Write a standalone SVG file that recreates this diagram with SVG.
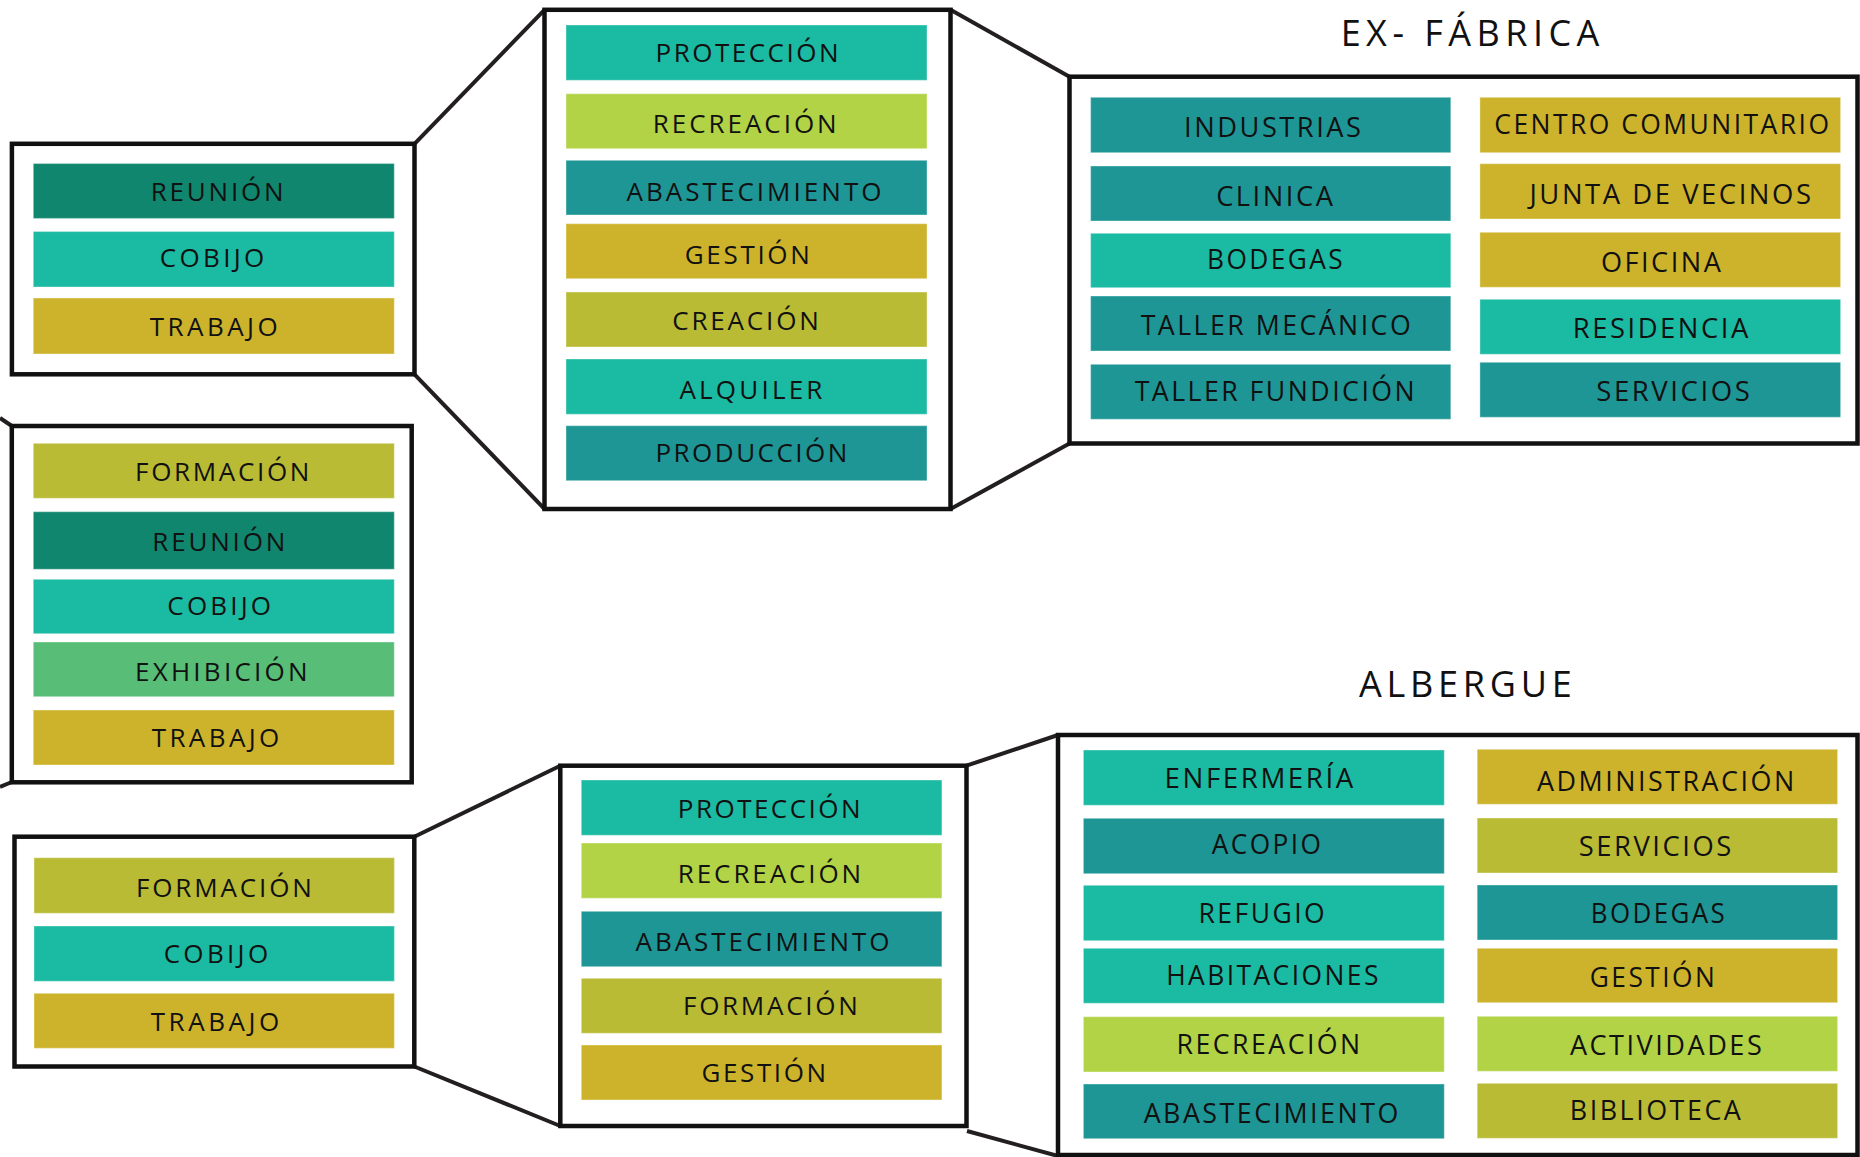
<svg xmlns="http://www.w3.org/2000/svg" width="1860" height="1157" viewBox="0 0 1860 1157">
<style>
  .frame { fill: #fff; stroke: #111; stroke-width: 4.5; }
  .link { fill: none; stroke: #231f20; stroke-width: 4; }
  .bar { stroke: #ffffff; stroke-opacity: 0.3; stroke-width: 1.2; }
  .dg { fill: #10866e; }
  .tq { fill: #1bbaa2; }
  .mu { fill: #cdb32b; }
  .ol { fill: #b9bb35; }
  .li { fill: #b2d346; }
  .dt { fill: #1e9696; }
  .gr { fill: #58bd76; }
  .lb { font-family: "Open Sans", "Liberation Sans", sans-serif; font-size: 26px; fill: #111; text-anchor: middle; }
  .cd { font-family: "Open Sans", "Liberation Sans", sans-serif; font-size: 27px; letter-spacing: 2.5px; fill: #111; text-anchor: middle; }
  .tt { font-family: "Open Sans", "Liberation Sans", sans-serif; font-size: 36px; fill: #111; text-anchor: middle; }
</style>

<!-- connectors between the zoom frames -->
<g id="connectors">
  <line class="link" x1="414.5" y1="143.8" x2="544.5" y2="9.8"/>
  <line class="link" x1="414.5" y1="374.3" x2="544.5" y2="509"/>
  <line class="link" x1="950.5" y1="9.8" x2="1069.5" y2="76.7"/>
  <line class="link" x1="950.5" y1="509" x2="1069.5" y2="443.5"/>
  <line class="link" x1="0" y1="418" x2="11.8" y2="426"/>
  <line class="link" x1="0" y1="787" x2="11.8" y2="782"/>
  <line class="link" x1="414.3" y1="836.7" x2="560.3" y2="765.7"/>
  <line class="link" x1="414.3" y1="1066.5" x2="560.3" y2="1126"/>
  <line class="link" x1="966.5" y1="765.7" x2="1058" y2="735"/>
  <line class="link" x1="967" y1="1131" x2="1058" y2="1156"/>
</g>

<!-- left column, first group -->
<g id="grupo-1">
  <rect class="frame" x="11.9" y="143.8" width="402.6" height="230.5"/>
  <rect class="bar dg" x="33.3" y="163.5" width="361" height="55"/>
  <text class="lb" x="217.2" y="200.7" textLength="133" lengthAdjust="spacing">REUNIÓN</text>
  <rect class="bar tq" x="33.3" y="231.5" width="361" height="55.5"/>
  <text class="lb" x="212" y="267.3" textLength="104.6" lengthAdjust="spacing">COBIJO</text>
  <rect class="bar mu" x="33.3" y="298" width="361" height="56"/>
  <text class="lb" x="213.7" y="335.7" textLength="128" lengthAdjust="spacing">TRABAJO</text>
</g>

<!-- left column, second group -->
<g id="grupo-2">
  <rect class="frame" x="11.8" y="426" width="399.9" height="356.3"/>
  <rect class="bar ol" x="33.3" y="443.3" width="361" height="55"/>
  <text class="lb" x="222.2" y="481" textLength="174.3" lengthAdjust="spacing">FORMACIÓN</text>
  <rect class="bar dg" x="33.3" y="511.7" width="361" height="57.6"/>
  <text class="lb" x="218.8" y="551" textLength="133" lengthAdjust="spacing">REUNIÓN</text>
  <rect class="bar tq" x="33.3" y="579.3" width="361" height="54.4"/>
  <text class="lb" x="219.2" y="615" textLength="103.7" lengthAdjust="spacing">COBIJO</text>
  <rect class="bar gr" x="33.3" y="642" width="361" height="54.7"/>
  <text class="lb" x="221.3" y="681" textLength="172.7" lengthAdjust="spacing">EXHIBICIÓN</text>
  <rect class="bar mu" x="33.3" y="710" width="361" height="55"/>
  <text class="lb" x="215.5" y="746.7" textLength="127.7" lengthAdjust="spacing">TRABAJO</text>
</g>

<!-- left column, third group -->
<g id="grupo-3">
  <rect class="frame" x="14.5" y="836.7" width="399.8" height="229.8"/>
  <rect class="bar ol" x="34" y="857.7" width="360.4" height="55.6"/>
  <text class="lb" x="223.9" y="896.7" textLength="175.9" lengthAdjust="spacing">FORMACIÓN</text>
  <rect class="bar tq" x="34" y="926" width="360.4" height="55.3"/>
  <text class="lb" x="215.9" y="963.3" textLength="104.5" lengthAdjust="spacing">COBIJO</text>
  <rect class="bar mu" x="34" y="993.3" width="360.4" height="55"/>
  <text class="lb" x="215" y="1030.7" textLength="128.5" lengthAdjust="spacing">TRABAJO</text>
</g>

<!-- middle column, upper group -->
<g id="usos-fabrica">
  <rect class="frame" x="544.5" y="9.8" width="406" height="499.2"/>
  <rect class="bar tq" x="566" y="25" width="361" height="55.3"/>
  <text class="lb" x="747" y="62.3" textLength="183" lengthAdjust="spacing">PROTECCIÓN</text>
  <rect class="bar li" x="566" y="93.7" width="361" height="55"/>
  <text class="lb" x="744.7" y="133.3" textLength="184" lengthAdjust="spacing">RECREACIÓN</text>
  <rect class="bar dt" x="566" y="160.3" width="361" height="54.7"/>
  <text class="lb" x="754" y="201" textLength="255" lengthAdjust="spacing">ABASTECIMIENTO</text>
  <rect class="bar mu" x="566" y="223.7" width="361" height="55"/>
  <text class="lb" x="747.3" y="264" textLength="125" lengthAdjust="spacing">GESTIÓN</text>
  <rect class="bar ol" x="566" y="292" width="361" height="55"/>
  <text class="lb" x="745.5" y="330" textLength="146.6" lengthAdjust="spacing">CREACIÓN</text>
  <rect class="bar tq" x="566" y="359" width="361" height="55.3"/>
  <text class="lb" x="750.9" y="399" textLength="143" lengthAdjust="spacing">ALQUILER</text>
  <rect class="bar dt" x="566" y="425.7" width="361" height="55"/>
  <text class="lb" x="751.4" y="461.7" textLength="192" lengthAdjust="spacing">PRODUCCIÓN</text>
</g>

<!-- middle column, lower group -->
<g id="usos-albergue">
  <rect class="frame" x="560.3" y="765.7" width="406.2" height="360.3"/>
  <rect class="bar tq" x="581.3" y="780" width="360.6" height="55.3"/>
  <text class="lb" x="769.2" y="818.3" textLength="182.8" lengthAdjust="spacing">PROTECCIÓN</text>
  <rect class="bar li" x="581.3" y="843" width="360.6" height="55.3"/>
  <text class="lb" x="769.5" y="882.7" textLength="183.4" lengthAdjust="spacing">RECREACIÓN</text>
  <rect class="bar dt" x="581.3" y="911.3" width="360.6" height="55.4"/>
  <text class="lb" x="762.5" y="951" textLength="254" lengthAdjust="spacing">ABASTECIMIENTO</text>
  <rect class="bar ol" x="581.3" y="978.3" width="360.6" height="55"/>
  <text class="lb" x="770.4" y="1015" textLength="174.8" lengthAdjust="spacing">FORMACIÓN</text>
  <rect class="bar mu" x="581.3" y="1045" width="360.6" height="55"/>
  <text class="lb" x="763.8" y="1082.3" textLength="124.6" lengthAdjust="spacing">GESTIÓN</text>
</g>

<!-- EX- FÁBRICA programme -->
<g id="ex-fabrica">
  <text class="tt" x="1470" y="46" textLength="258.7" lengthAdjust="spacing">EX- FÁBRICA</text>
  <rect class="frame" x="1069.5" y="76.7" width="788" height="366.8"/>
  <rect class="bar dt" x="1090.6" y="97.3" width="360.2" height="55.4"/>
  <text class="cd" x="1273.8" y="136.7" textLength="179.5" lengthAdjust="spacingAndGlyphs">INDUSTRIAS</text>
  <rect class="bar dt" x="1090.6" y="166" width="360.2" height="55"/>
  <text class="cd" x="1275.8" y="205.7" textLength="119.3" lengthAdjust="spacingAndGlyphs">CLINICA</text>
  <rect class="bar tq" x="1090.6" y="233.3" width="360.2" height="54.4"/>
  <text class="cd" x="1276.1" y="269.3" textLength="138.2" lengthAdjust="spacingAndGlyphs">BODEGAS</text>
  <rect class="bar dt" x="1090.6" y="296" width="360.2" height="55"/>
  <text class="cd" x="1276.9" y="335" textLength="272.5" lengthAdjust="spacingAndGlyphs">TALLER MECÁNICO</text>
  <rect class="bar dt" x="1090.6" y="364.3" width="360.2" height="55"/>
  <text class="cd" x="1275.9" y="401" textLength="282.5" lengthAdjust="spacingAndGlyphs">TALLER FUNDICIÓN</text>
  <rect class="bar mu" x="1479.9" y="97.3" width="360.7" height="55.4"/>
  <text class="cd" x="1662.9" y="134.3" textLength="337.2" lengthAdjust="spacingAndGlyphs">CENTRO COMUNITARIO</text>
  <rect class="bar mu" x="1479.9" y="163.7" width="360.7" height="55.3"/>
  <text class="cd" x="1671.5" y="204" textLength="284.1" lengthAdjust="spacingAndGlyphs">JUNTA DE VECINOS</text>
  <rect class="bar mu" x="1479.9" y="232.3" width="360.7" height="55"/>
  <text class="cd" x="1662.1" y="272.3" textLength="122.4" lengthAdjust="spacingAndGlyphs">OFICINA</text>
  <rect class="bar tq" x="1479.9" y="299.3" width="360.7" height="55"/>
  <text class="cd" x="1661.8" y="337.7" textLength="177.9" lengthAdjust="spacingAndGlyphs">RESIDENCIA</text>
  <rect class="bar dt" x="1479.9" y="362.3" width="360.7" height="55"/>
  <text class="cd" x="1674.3" y="401" textLength="156" lengthAdjust="spacingAndGlyphs">SERVICIOS</text>
</g>

<!-- ALBERGUE programme -->
<g id="albergue">
  <text class="tt" x="1465.4" y="696.7" textLength="212.8" lengthAdjust="spacing">ALBERGUE</text>
  <rect class="frame" x="1058" y="735" width="799.5" height="420"/>
  <rect class="bar tq" x="1083.4" y="750" width="360.9" height="55.3"/>
  <text class="cd" x="1260.2" y="788.3" textLength="191.2" lengthAdjust="spacingAndGlyphs">ENFERMERÍA</text>
  <rect class="bar dt" x="1083.4" y="818.3" width="360.9" height="55.4"/>
  <text class="cd" x="1267.5" y="854.3" textLength="111.7" lengthAdjust="spacingAndGlyphs">ACOPIO</text>
  <rect class="bar tq" x="1083.4" y="885.3" width="360.9" height="55.4"/>
  <text class="cd" x="1262.8" y="922.7" textLength="128.5" lengthAdjust="spacingAndGlyphs">REFUGIO</text>
  <rect class="bar tq" x="1083.4" y="948.3" width="360.9" height="55"/>
  <text class="cd" x="1273.5" y="985" textLength="214.7" lengthAdjust="spacingAndGlyphs">HABITACIONES</text>
  <rect class="bar li" x="1083.4" y="1016.7" width="360.9" height="55.3"/>
  <text class="cd" x="1269.6" y="1054.3" textLength="186" lengthAdjust="spacingAndGlyphs">RECREACIÓN</text>
  <rect class="bar dt" x="1083.4" y="1084" width="360.9" height="54.7"/>
  <text class="cd" x="1272.2" y="1123.3" textLength="257.1" lengthAdjust="spacingAndGlyphs">ABASTECIMIENTO</text>
  <rect class="bar mu" x="1477.2" y="749.3" width="360.4" height="55"/>
  <text class="cd" x="1666.8" y="790.7" textLength="259.7" lengthAdjust="spacingAndGlyphs">ADMINISTRACIÓN</text>
  <rect class="bar ol" x="1477.2" y="818" width="360.4" height="55"/>
  <text class="cd" x="1656.3" y="855.7" textLength="155.1" lengthAdjust="spacingAndGlyphs">SERVICIOS</text>
  <rect class="bar dt" x="1477.2" y="885" width="360.4" height="55"/>
  <text class="cd" x="1659" y="922.7" textLength="136.3" lengthAdjust="spacingAndGlyphs">BODEGAS</text>
  <rect class="bar mu" x="1477.2" y="948.3" width="360.4" height="54.4"/>
  <text class="cd" x="1653.5" y="986.7" textLength="127.4" lengthAdjust="spacingAndGlyphs">GESTIÓN</text>
  <rect class="bar li" x="1477.2" y="1016.3" width="360.4" height="55"/>
  <text class="cd" x="1667.1" y="1055.3" textLength="194.4" lengthAdjust="spacingAndGlyphs">ACTIVIDADES</text>
  <rect class="bar ol" x="1477.2" y="1083.3" width="360.4" height="55"/>
  <text class="cd" x="1656.6" y="1120" textLength="173.5" lengthAdjust="spacingAndGlyphs">BIBLIOTECA</text>
</g>
</svg>
